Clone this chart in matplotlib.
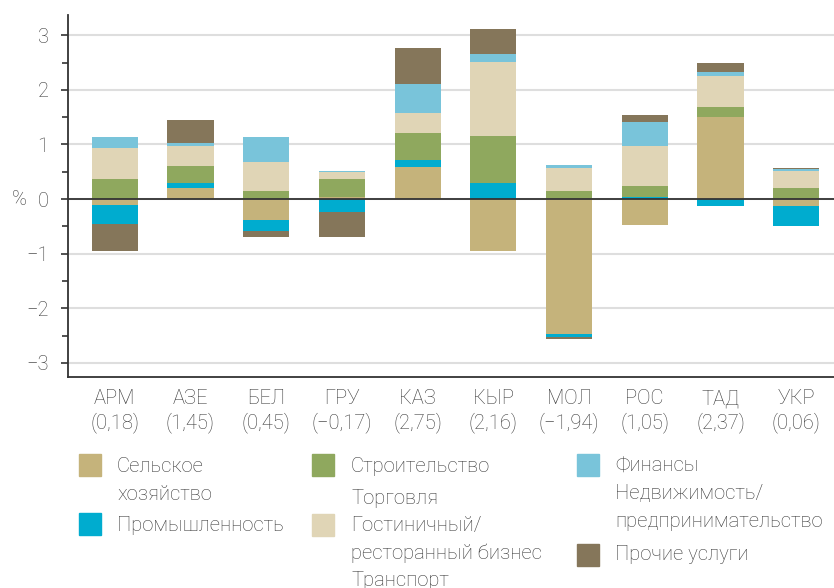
import numpy as np
import matplotlib.pyplot as plt
from matplotlib.patches import Rectangle

plt.rcParams['font.family'] = ['Roboto', 'DejaVu Sans']
plt.rcParams['font.weight'] = 'light'
plt.rcParams['text.color'] = '#3a3a3a'

# countries and total growth contribution (%)
countries = ['АРМ', 'АЗЕ', 'БЕЛ', 'ГРУ', 'КАЗ', 'КЫР', 'МОЛ', 'РОС', 'ТАД', 'УКР']
totals = [0.18, 1.45, 0.45, -0.17, 2.75, 2.16, -1.94, 1.05, 2.37, 0.06]

# sector contributions, in stacking order
agriculture = [-0.11, 0.20, -0.39, 0.04, 0.59, -0.95, -2.48, -0.48, 1.50, -0.13]
industry = [-0.35, 0.09, -0.19, -0.23, 0.13, 0.29, -0.04, 0.03, -0.13, -0.37]
construction = [0.37, 0.31, 0.14, 0.33, 0.48, 0.86, 0.15, 0.21, 0.18, 0.20]
trade = [0.57, 0.37, 0.54, 0.13, 0.37, 1.36, 0.42, 0.73, 0.57, 0.31]
finance = [0.20, 0.06, 0.46, 0.02, 0.53, 0.15, 0.05, 0.44, 0.07, 0.04]
other = [-0.49, 0.42, -0.11, -0.46, 0.66, 0.46, -0.04, 0.13, 0.18, 0.02]

sector_names = ['Сельское\nхозяйство', 'Промышленность', 'Строительство',
                'Торговля\nГостиничный/\nресторанный бизнес\nТранспорт',
                'Финансы\nНедвижимость/\nпредпринимательство', 'Прочие услуги']
sector_colors = ['#c5b37b', '#00accf', '#8fa85e', '#e0d5b6', '#79c4da', '#85765a']
sectors = [agriculture, industry, construction, trade, finance, other]

W, H = 834, 588
fig = plt.figure(figsize=(W / 100, H / 100), dpi=100)
ax = fig.add_axes([68 / W, 1 - 376.5 / H, 1 - 68 / W, (376.5 - 15) / H])

x = np.arange(len(countries))
pos_bottom = np.zeros(len(countries))
neg_bottom = np.zeros(len(countries))
for vals, col in zip(sectors, sector_colors):
    v = np.array(vals)
    bottom = np.where(v >= 0, pos_bottom, neg_bottom)
    ax.bar(x, v, 0.61, bottom=bottom, color=col, zorder=2)
    pos_bottom += np.where(v >= 0, v, 0)
    neg_bottom += np.where(v < 0, v, 0)

ax.axhline(0, color='#333333', lw=1.3, zorder=3)

ax.set_xlim(-0.618, 9.5)
ax.set_ylim(-3.25, 3.37)
ax.set_yticks(range(-3, 4))
ax.set_yticks(np.arange(-3, 3.5, 0.5), minor=True)
ax.set_yticklabels([str(t).replace('-', '\u2212') for t in range(-3, 4)])
ax.yaxis.grid(True, color='#dedede', lw=1.5, zorder=0)
ax.set_axisbelow(True)

labels = [f"{c}\n({t:.2f})".replace('.', ',').replace('-', '\u2212')
          for c, t in zip(countries, totals)]
ax.set_xticks(x)
ax.set_xticklabels(labels, fontsize=14.5, linespacing=1.25)

for s in ['top', 'right']:
    ax.spines[s].set_visible(False)
for s in ['left', 'bottom']:
    ax.spines[s].set_color('#333333')
    ax.spines[s].set_linewidth(1.3)
ax.tick_params(axis='x', length=0, pad=9, colors='#3a3a3a')
ax.tick_params(axis='y', which='major', length=5, width=1.2, pad=9,
               labelsize=14.5, color='#333333', labelcolor='#3a3a3a')
ax.tick_params(axis='y', which='minor', length=4, width=1.2, color='#333333')

fig.text(19 / W, 1 - 200 / H, '%', ha='center', va='center', fontsize=14.5)

# legend, laid out by hand
swatch_pos = [(79, 454), (79, 513), (312, 454), (312, 514), (577, 454), (577, 544)]
text_pos = [(117, 472), (117, 531), (351, 472), (351, 504), (615, 472), (615, 560)]
for name, col, (sx, sy), (tx, ty) in zip(sector_names, sector_colors, swatch_pos, text_pos):
    fig.add_artist(Rectangle((sx / W, 1 - (sy + 22) / H), 22 / W, 22 / H,
                             color=col, transform=fig.transFigure))
    for k, line in enumerate(name.split('\n')):
        fig.text(tx / W, 1 - (ty + 27.5 * k) / H, line, fontsize=14.6,
                 ha='left', va='baseline')

fig.savefig('out.png', dpi=100)
